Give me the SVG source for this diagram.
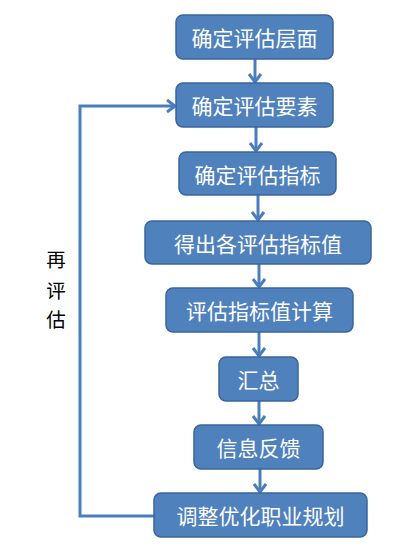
<svg xmlns="http://www.w3.org/2000/svg" width="404" height="549" viewBox="0 0 404 549">
<defs>
<style>
.box{fill:#4F81BD;stroke:#3A659A;stroke-width:1.5}
.t{font-family:"Noto Sans CJK SC","Noto Sans",sans-serif;font-size:21px;fill:#FFFFFF;text-anchor:middle;dominant-baseline:central}
.lbl{font-family:"Noto Sans CJK SC","Noto Sans",sans-serif;font-size:19.5px;fill:#000000;text-anchor:middle;dominant-baseline:central}
.c{fill:none;stroke:#4A7EBB;stroke-width:3}
</style>
<marker id="ah" viewBox="0 0 10 14" refX="9" refY="7" markerWidth="10" markerHeight="14" markerUnits="userSpaceOnUse" orient="auto">
<path d="M1,1 L9,7 L1,13" fill="none" stroke="#4A7EBB" stroke-width="3" stroke-linejoin="miter"/>
</marker>
</defs>
<rect width="404" height="549" fill="#FFFFFF"/>
<g id="connectors">
<line class="c" x1="255" y1="59" x2="255" y2="82" marker-end="url(#ah)"/>
<line class="c" x1="256" y1="127" x2="256" y2="151" marker-end="url(#ah)"/>
<line class="c" x1="258" y1="195" x2="258" y2="220" marker-end="url(#ah)"/>
<line class="c" x1="259" y1="264" x2="259" y2="287" marker-end="url(#ah)"/>
<line class="c" x1="259" y1="332" x2="259" y2="356" marker-end="url(#ah)"/>
<line class="c" x1="259" y1="401" x2="259" y2="424" marker-end="url(#ah)"/>
<line class="c" x1="260" y1="469" x2="260" y2="492" marker-end="url(#ah)"/>
<polyline class="c" points="154,516 80,516 80,106 175,106" marker-end="url(#ah)"/>
</g>
<g id="label-reeval">
<text class="lbl" x="56" y="258">再</text>
<text class="lbl" x="56" y="289">评</text>
<text class="lbl" x="56" y="318">估</text>
</g>
<g id="n1"><rect class="box" x="176" y="15" width="157" height="44" rx="7"/><text class="t" x="254.5" y="37">确定评估层面</text></g>
<g id="n2"><rect class="box" x="176" y="83" width="157" height="44" rx="7"/><text class="t" x="254.5" y="105">确定评估要素</text></g>
<g id="n3"><rect class="box" x="179" y="152" width="157" height="43" rx="7"/><text class="t" x="257.5" y="173.5">确定评估指标</text></g>
<g id="n4"><rect class="box" x="145" y="221" width="226" height="43" rx="7"/><text class="t" x="258" y="242.5">得出各评估指标值</text></g>
<g id="n5"><rect class="box" x="166" y="288" width="187" height="44" rx="7"/><text class="t" x="259.5" y="310">评估指标值计算</text></g>
<g id="n6"><rect class="box" x="219" y="357" width="79" height="44" rx="7"/><text class="t" x="258.5" y="379">汇总</text></g>
<g id="n7"><rect class="box" x="194" y="425" width="129" height="44" rx="7"/><text class="t" x="258.5" y="447">信息反馈</text></g>
<g id="n8"><rect class="box" x="154" y="493" width="213" height="44" rx="7"/><text class="t" x="260.5" y="515">调整优化职业规划</text></g>
</svg>
